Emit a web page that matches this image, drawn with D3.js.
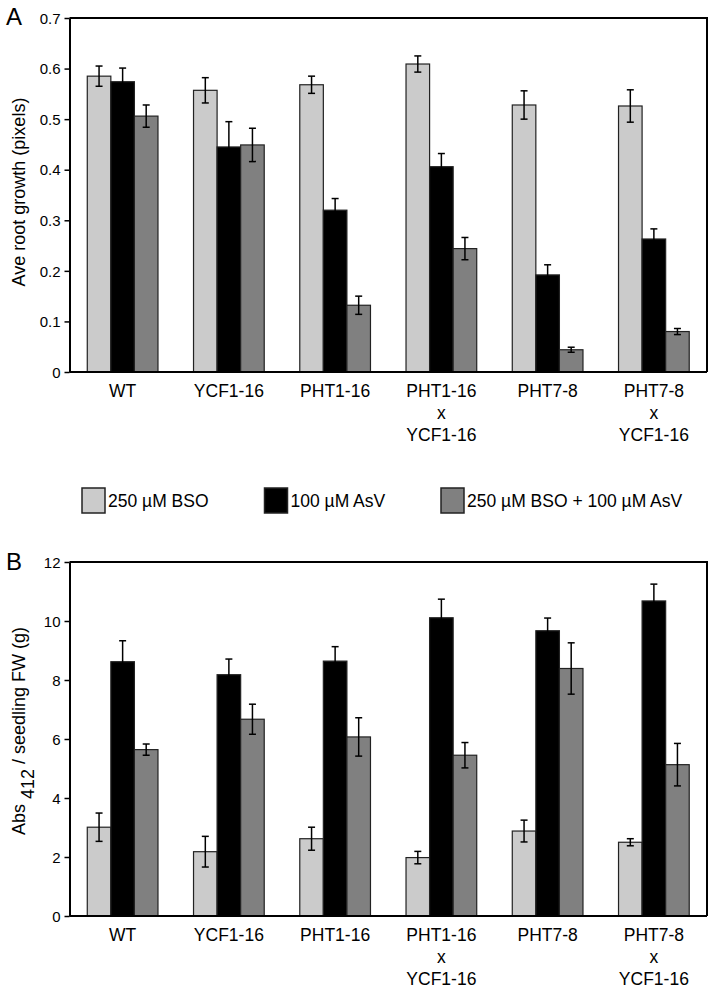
<!DOCTYPE html>
<html><head><meta charset="utf-8">
<script src="https://cdn.jsdelivr.net/npm/d3@7"></script>
<style>
html,body{margin:0;padding:0;background:#fff;}
svg text{font-family:"Liberation Sans",Arial,sans-serif;fill:#000;}
</style></head>
<body>
<svg id="c" width="714" height="992"></svg>
<script>
// ---- data ----
const categories = ["WT", "YCF1-16", "PHT1-16", "PHT1-16\nx\nYCF1-16", "PHT7-8", "PHT7-8\nx\nYCF1-16"];
const seriesNames = ["250 µM BSO", "100 µM AsV", "250 µM BSO + 100 µM AsV"];
const seriesColors = ["#cbcbcb", "#000000", "#808080"];

const rootBSO     = [0.585, 0.557, 0.568, 0.609, 0.528, 0.526];
const rootBSOErr  = [0.020, 0.025, 0.017, 0.016, 0.028, 0.032];
const rootAsV     = [0.574, 0.445, 0.320, 0.406, 0.192, 0.263];
const rootAsVErr  = [0.027, 0.050, 0.023, 0.026, 0.020, 0.020];
const rootBoth    = [0.506, 0.449, 0.132, 0.244, 0.044, 0.080];
const rootBothErr = [0.022, 0.033, 0.018, 0.022, 0.005, 0.006];

const absBSO      = [3.01, 2.18, 2.62, 1.98, 2.88, 2.50];
const absBSOErr   = [0.48, 0.52, 0.39, 0.21, 0.37, 0.12];
const absAsV      = [8.62, 8.18, 8.64, 10.11, 9.67, 10.68];
const absAsVErr   = [0.71, 0.53, 0.49, 0.63, 0.43, 0.57];
const absBoth     = [5.64, 6.67, 6.07, 5.45, 8.39, 5.13];
const absBothErr  = [0.19, 0.51, 0.65, 0.43, 0.87, 0.72];

const ticksA = [0, 0.1, 0.2, 0.3, 0.4, 0.5, 0.6, 0.7];
const tickLabelsA = ["0", "0.1", "0.2", "0.3", "0.4", "0.5", "0.6", "0.7"];
const ticksB = [0, 2, 4, 6, 8, 10, 12];
const tickLabelsB = ["0", "2", "4", "6", "8", "10", "12"];

// ---- drawing ----
const svg = d3.select("#c");
const L = 69.5, R = 707;

const x0 = d3.scaleBand().domain(categories).range([L, R]).paddingInner(0.3346).paddingOuter(0.1673);
const x1 = d3.scaleBand().domain(seriesNames).range([0, x0.bandwidth()]).padding(0);

function panel(cfg) {
  const y = d3.scaleLinear().domain(cfg.domain).range([cfg.bottom, cfg.top]);
  const g = svg.append("g");
  const vals = [cfg.v1, cfg.v2, cfg.v3];
  const errs = [cfg.e1, cfg.e2, cfg.e3];

  // bars
  seriesNames.forEach((s, si) => {
    const gg = g.append("g");
    gg.selectAll("rect").data(categories).join("rect")
      .attr("x", c => x0(c) + x1(s))
      .attr("y", (c, i) => y(vals[si][i]))
      .attr("width", x1.bandwidth())
      .attr("height", (c, i) => y(0) - y(vals[si][i]))
      .attr("fill", seriesColors[si])
      .attr("stroke", "#222")
      .attr("stroke-width", 1.2);
  });
  // error bars
  seriesNames.forEach((s, si) => {
    const gg = g.append("g").attr("stroke", "#000").attr("stroke-width", 1.5).attr("fill", "none");
    categories.forEach((c, i) => {
      const cx = x0(c) + x1(s) + x1.bandwidth() / 2;
      const hi = y(vals[si][i] + errs[si][i]);
      const lo = y(Math.max(0, vals[si][i] - errs[si][i]));
      gg.append("line").attr("x1", cx).attr("x2", cx).attr("y1", hi).attr("y2", lo);
      gg.append("line").attr("x1", cx - 3.5).attr("x2", cx + 3.5).attr("y1", hi).attr("y2", hi);
      gg.append("line").attr("x1", cx - 3.5).attr("x2", cx + 3.5).attr("y1", lo).attr("y2", lo);
    });
  });

  // frame (top and right)
  g.append("path")
    .attr("d", `M${L},${cfg.top}H${R}V${cfg.bottom}`)
    .attr("fill", "none").attr("stroke", "#000").attr("stroke-width", 2);
  // bottom axis line
  g.append("line").attr("x1", L).attr("x2", R).attr("y1", cfg.bottom).attr("y2", cfg.bottom)
    .attr("stroke", "#000").attr("stroke-width", 2);

  // y axis
  const ax = g.append("g").attr("transform", `translate(${L},0)`)
    .call(d3.axisLeft(y).tickValues(cfg.ticks).tickFormat((d, i) => cfg.tickLabels[i]).tickSize(5).tickSizeOuter(0).tickPadding(4));
  ax.select(".domain").attr("stroke-width", 2);
  ax.selectAll(".tick line").attr("stroke-width", 1.5);
  ax.selectAll(".tick text").attr("font-size", 15).attr("font-family", "Liberation Sans, Arial, sans-serif").attr("dy", "0.35em");

  // category labels
  categories.forEach(c => {
    const t = g.append("text").attr("text-anchor", "middle").attr("font-size", 17.5)
      .attr("x", x0(c) + x0.bandwidth() / 2).attr("y", cfg.bottom + 25);
    c.split("\n").forEach((line, li) => {
      t.append("tspan").attr("x", x0(c) + x0.bandwidth() / 2).attr("dy", li === 0 ? 0 : 22).text(line);
    });
  });

  // panel letter
  svg.append("text").attr("x", cfg.letterX).attr("y", cfg.letterY).attr("font-size", 24).text(cfg.letter);

  return g;
}

panel({domain: [0, 0.7], top: 18, bottom: 372, v1: rootBSO, v2: rootAsV, v3: rootBoth,
  e1: rootBSOErr, e2: rootAsVErr, e3: rootBothErr, ticks: ticksA, tickLabels: tickLabelsA,
  letter: "A", letterX: 6, letterY: 25});
panel({domain: [0, 12], top: 562, bottom: 916, v1: absBSO, v2: absAsV, v3: absBoth,
  e1: absBSOErr, e2: absAsVErr, e3: absBothErr, ticks: ticksB, tickLabels: tickLabelsB,
  letter: "B", letterX: 6, letterY: 570});

// y-axis titles
svg.append("text").attr("transform", "translate(25,192) rotate(-90)")
  .attr("text-anchor", "middle").attr("font-size", 18).text("Ave root growth (pixels)");
const tb = svg.append("text").attr("transform", "translate(25,731) rotate(-90)")
  .attr("text-anchor", "middle").attr("font-size", 18);
tb.append("tspan").text("Abs ");
tb.append("tspan").attr("dy", 9).text("412");
tb.append("tspan").attr("dy", -9).text(" / seedling FW (g)");

// legend
const legX = [82, 264.5, 441];
const lg = svg.append("g");
seriesNames.forEach((s, i) => {
  lg.append("rect").attr("x", legX[i]).attr("y", 488).attr("width", 23).attr("height", 25)
    .attr("fill", seriesColors[i]).attr("stroke", "#222").attr("stroke-width", 1.5);
  lg.append("text").attr("x", legX[i] + 26).attr("y", 507).attr("font-size", 17.5).text(s);
});
</script>
</body></html>
